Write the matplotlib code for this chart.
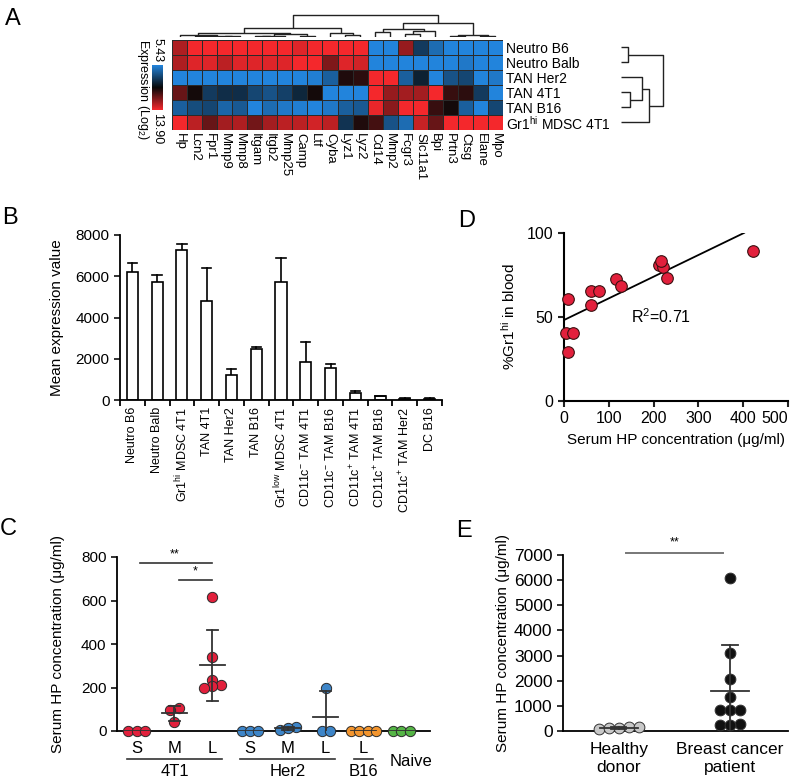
import numpy as np
import matplotlib
matplotlib.use("Agg")
import matplotlib.pyplot as plt
from matplotlib.colors import LinearSegmentedColormap
from matplotlib.transforms import blended_transform_factory

plt.rcParams['font.family'] = ['Liberation Sans', 'DejaVu Sans']
plt.rcParams['mathtext.fontset'] = 'custom'
plt.rcParams['mathtext.rm'] = 'Liberation Sans'
plt.rcParams['mathtext.default'] = 'regular'

# ---- panel A: heatmap (scaled -1 = 5.43, +1 = 13.90) ----
genes = ["Hp", "Lcn2", "Fpr1", "Mmp9", "Mmp8", "Itgam", "Itgb2", "Mmp25", "Camp", "Ltf", "Cyba",
         "Lyz1", "Lyz2", "Cd14", "Mmp2", "Fcgr3", "Slc11a1", "Bpi", "Prtn3", "Ctsg", "Elane", "Mpo"]
samples = ["Neutro B6", "Neutro Balb", "TAN Her2", "TAN 4T1", "TAN B16", "Gr1$^{hi}$ MDSC 4T1"]
heat_vals = [
    [0.7, 1, 1, 1, 1, 1, 1, 1, 0.9, 1, 1, 1, 1, -1, -1, 0.6, -0.4, -0.8, -1, -1, -1, -1],
    [0.7, 0.9, 0.9, 0.75, 0.9, 0.9, 0.9, 0.9, 1, 1, 0.5, 0.9, 0.85, -1, -1, -1, -1, -1, -1, -0.9, -1, -1],
    [-1, -1, -1, -1, -1, -1, -1, -1, -1, -0.95, -0.7, 0.1, 0.15, 1, 1, -0.7, -0.2, -1, -0.6, -0.5, -1, -0.9],
    [0.4, 0.05, -0.4, -0.3, -0.3, -0.5, -0.6, -0.45, -0.25, 0.05, -1, -1, -1, 1, 0.6, 0.65, 0.65, 1, 0.2, 0.15, -0.4, -1],
    [-0.7, -0.55, -0.5, -0.75, -0.65, -1, -0.8, -0.9, -0.95, -1, -0.9, -0.7, -0.65, 0.95, 0.55, 1, 1, 0.2, 0.05, -0.7, -1, -0.5],
    [1, 0.75, 0.4, 0.65, 0.7, 0.45, 0.65, 0.75, 0.75, 0.85, 0.75, -0.35, 0.1, 0.25, -0.6, -0.8, 0.8, 0.4, 1, 1, 1, 1],
]
expr_min, expr_max = "5.43", "13.90"

# dendrograms: (height, left, right), leaves = column/row index
col_tree = (22,
            (9, (4, (2.5, 0, (1.5, (1, 1, 2), (1, 3, 4))), (3, (1.5, (1, 5, 6), 7), (1.5, 8, 9))),
             (4, 10, (2, 11, 12))),
            (14, (8, (5, 13, 14), (6, (3, 15, 16), 17)), (2.5, (1.5, 18, 19), (1.5, 20, 21))))
row_tree = (42, (7, 0, 1), (28, (21, 2, (9, 3, 4)), 5))

# ---- panel B ----
b_labels = ["Neutro B6", "Neutro Balb", "Gr1$^{hi}$ MDSC 4T1", "TAN 4T1", "TAN Her2", "TAN B16",
            "Gr1$^{low}$ MDSC 4T1", "CD11c$^{-}$ TAM 4T1", "CD11c$^{-}$ TAM B16", "CD11c$^{+}$ TAM 4T1",
            "CD11c$^{+}$ TAM B16", "CD11c$^{+}$ TAM Her2", "DC B16"]
b_means = [6200, 5720, 7250, 4780, 1220, 2460, 5730, 1830, 1540, 320, 190, 70, 60]
b_sd = [460, 350, 300, 1610, 270, 130, 1140, 970, 210, 110, 20, 20, 20]

# ---- panel C ----
c_ticks = ["S", "M", "L", "S", "M", "L", "L", ""]
c_values = [[0, 0, 0], [106, 98, 41], [615, 340, 235, 213, 205, 200], [0, 0, 0],
            [18, 6, 15], [200, 0, 0], [0, 0, 0, 0], [0, 0, 0]]
c_colors = ["#e2203c"] * 3 + ["#3d85c8"] * 3 + ["#f3952e", "#55b546"]
c_groups = [("4T1", 0, 2), ("Her2", 3, 5), ("B16", 6, 6)]

# ---- panel D ----
d_x = [9.7, 3.7, 20.9, 9.7, 59.6, 79, 59.6, 116, 127, 211, 220.5, 216, 231, 421]
d_y = [60.6, 40.2, 40.2, 29.3, 65.7, 65.7, 57.2, 72.7, 68.5, 81.1, 79.7, 83.6, 73.5, 89]
fit_intercept, fit_slope, fit_xmax = 48.2, 0.129, 402

# ---- panel E ----
e_labels = ["Healthy\ndonor", "Breast cancer\npatient"]
e_values = [[90, 130, 110, 150, 170], [6070, 3100, 2080, 1350, 820, 820, 830, 250, 260, 255]]
e_colors = ["#c8c8c8", "#111111"]

W, H = 800, 781


def px(l, t, r, b):
    return [l / W, 1 - b / H, (r - l) / W, (b - t) / H]


def draw_tree(ax, node, horiz=False):
    if isinstance(node, int):
        return node + 0.5, 0
    h, a, b = node
    pa, ha = draw_tree(ax, a, horiz)
    pb, hb = draw_tree(ax, b, horiz)
    xs, ys = [pa, pa, pb, pb], [ha, h, h, hb]
    if horiz:
        xs, ys = ys, xs
    ax.plot(xs, ys, color="#222222", lw=1.0, solid_capstyle="butt")
    return (pa + pb) / 2, h


def spread(vals, step, tol):
    vals = np.asarray(vals, float)
    order = np.argsort(vals, kind="stable")
    offs = np.zeros(len(vals))
    clusters, cur = [], [order[0]]
    for i in order[1:]:
        if vals[i] - vals[cur[-1]] < tol:
            cur.append(i)
        else:
            clusters.append(cur)
            cur = [i]
    clusters.append(cur)
    for cl in clusters:
        for k, idx in enumerate(cl):
            offs[idx] = (k - (len(cl) - 1) / 2) * step
    return offs


def style(ax, lw=1.3):
    for s in ["top", "right"]:
        ax.spines[s].set_visible(False)
    for s in ["left", "bottom"]:
        ax.spines[s].set_linewidth(lw)
    ax.tick_params(width=lw, length=4, color="#222222")


fig = plt.figure(figsize=(8, 7.81), dpi=100)

# ---------- A ----------
cmap = LinearSegmentedColormap.from_list("bkr", ["#2284dc", "#080808", "#f4282c"])
ax = fig.add_axes(px(172, 40, 503, 130))
ax.pcolormesh(np.array(heat_vals), cmap=cmap, vmin=-1, vmax=1, edgecolors="#2a2a2a", linewidth=0.6)
ax.set_xlim(0, len(genes))
ax.set_ylim(len(samples), 0)
ax.set_xticks(np.arange(len(genes)) + 0.5)
ax.set_xticklabels(genes, rotation=270, fontsize=9.5)
ax.set_yticks(np.arange(len(samples)) + 0.5)
ax.set_yticklabels(samples, fontsize=10)
ax.yaxis.tick_right()
ax.tick_params(length=0, pad=2)
for s in ax.spines.values():
    s.set_visible(False)

axd = fig.add_axes(px(172, 14, 503, 37))
draw_tree(axd, col_tree)
axd.set_xlim(0, len(genes))
axd.set_ylim(0, 23)
axd.axis("off")

axr = fig.add_axes(px(621, 40, 670, 130))
draw_tree(axr, row_tree, horiz=True)
axr.set_xlim(0, 49)
axr.set_ylim(len(samples), 0)
axr.axis("off")

axc = fig.add_axes(px(152, 65, 163, 110))
axc.imshow(np.linspace(-1, 1, 100)[:, None], cmap=cmap, aspect="auto", vmin=-1, vmax=1)
axc.axis("off")
fig.text(157.5 / W, 1 - 62 / H, expr_min, rotation=270, ha="center", va="bottom", fontsize=9)
fig.text(157.5 / W, 1 - 113 / H, expr_max, rotation=270, ha="center", va="top", fontsize=9)
fig.text(143 / W, 1 - 90 / H, "Expression (Log$_2$)", rotation=270, ha="center", va="center", fontsize=9)

# ---------- B ----------
ax = fig.add_axes(px(120, 235, 442, 400))
xb = np.arange(len(b_labels))
ax.bar(xb, b_means, width=0.45, color="white", edgecolor="black", linewidth=1.2, zorder=2)
for x, m, s in zip(xb, b_means, b_sd):
    ax.plot([x, x], [m, m + s], color="black", lw=1.2, zorder=1)
    ax.plot([x - 0.19, x + 0.19], [m + s, m + s], color="black", lw=1.2)
ax.set_xlim(-0.5, len(b_labels) - 0.5)
ax.set_ylim(0, 8000)
ax.set_yticks(np.arange(0, 8001, 2000))
ax.set_xticks(xb)
ax.set_xticklabels(b_labels, rotation=90, fontsize=9)
ax.set_xticks(np.arange(-0.5, len(b_labels)), minor=True)
style(ax)
ax.tick_params(axis="x", which="major", length=0, pad=5)
ax.tick_params(axis="x", which="minor", length=4, width=1.3)
ax.tick_params(axis="y", labelsize=11)
ax.set_ylabel("Mean expression value", fontsize=11)
ax.yaxis.set_label_coords(-0.175, 0.5)

# ---------- D ----------
ax = fig.add_axes(px(564, 233, 788, 401))
ax.scatter(d_x, d_y, s=70, color="#e2203c", edgecolor="#3a1010", linewidth=0.8, zorder=3, clip_on=False)
xf = np.array([0, fit_xmax])
ax.plot(xf, fit_intercept + fit_slope * xf, color="black", lw=1.3, zorder=2)
ax.text(217, 50, "R$^2$=0.71", ha="center", va="center", fontsize=11.5)
ax.set_xlim(0, 500)
ax.set_ylim(0, 100)
ax.set_xticks(np.arange(0, 501, 100))
ax.set_yticks([0, 50, 100])
style(ax, 1.5)
ax.tick_params(labelsize=11.5)
ax.set_ylabel("%Gr1$^{hi}$ in blood", fontsize=11)
ax.yaxis.set_label_coords(-0.205, 0.5)
ax.set_xlabel("Serum HP concentration (\u03bcg/ml)", fontsize=11)
ax.xaxis.set_label_coords(0.5, -0.19)
ax.get_xticklabels()[-1].set_horizontalalignment("right")
ax.get_xticklabels()[-1].set_x(1.0)

# ---------- C ----------
ax = fig.add_axes(px(117, 557, 430, 731))
for i, (vals, col) in enumerate(zip(c_values, c_colors)):
    off = spread(vals, 0.22, 12)
    ax.scatter(i + off, vals, s=55, color=col, edgecolor="#2a2a2a", linewidth=0.7, zorder=3, clip_on=False)
    m, s = np.mean(vals), np.std(vals, ddof=1)
    ax.plot([i - 0.33, i + 0.33], [m, m], color="#333333", lw=1.3, zorder=4)
    ax.plot([i, i], [max(m - s, 0), m + s], color="#333333", lw=1.3, zorder=4)
    for y in (m - s, m + s):
        if y > 0:
            ax.plot([i - 0.15, i + 0.15], [y, y], color="#333333", lw=1.3, zorder=4)
ax.set_xlim(-0.52, 7.76)
ax.set_ylim(0, 800)
ax.set_yticks(np.arange(0, 801, 200))
ax.set_xticks(range(len(c_ticks)))
ax.set_xticklabels(c_ticks, fontsize=12)
style(ax)
ax.tick_params(axis="x", length=0, pad=7)
ax.tick_params(axis="y", labelsize=11)
tr = blended_transform_factory(ax.transData, ax.transAxes)
for name, a, b in c_groups:
    ax.plot([a - 0.26, b + 0.26], [-0.163, -0.163], color="#333333", lw=1.2, transform=tr, clip_on=False)
    ax.text((a + b) / 2, -0.19, name, transform=tr, ha="center", va="top", fontsize=12)
ax.text(7.27, -0.13, "Naive", transform=tr, ha="center", va="top", fontsize=12)
# significance
ax.plot([0.1, 2.0], [774, 774], color="#333333", lw=1.2, clip_on=False)
ax.text(1.0, 782, "**", ha="center", va="bottom", fontsize=9)
ax.plot([1.13, 2.0], [696, 696], color="#333333", lw=1.2, clip_on=False)
ax.text(1.55, 704, "*", ha="center", va="bottom", fontsize=9)
ax.set_ylabel("Serum HP concentration (\u03bcg/ml)", fontsize=11)
ax.yaxis.set_label_coords(-0.166, 0.5)

# ---------- E ----------
ax = fig.add_axes(px(563, 555, 788, 731))
for i, (vals, col) in enumerate(zip(e_values, e_colors)):
    off = spread(vals, 0.09, 300)
    ax.scatter(i + off, vals, s=60, color=col, edgecolor="#333333", linewidth=0.7, zorder=3, clip_on=False)
    m, s = np.mean(vals), np.std(vals, ddof=1)
    ax.plot([i - 0.17, i + 0.17], [m, m], color="#333333", lw=1.3, zorder=4)
    ax.plot([i, i], [max(m - s, 0), m + s], color="#333333", lw=1.3, zorder=4)
    for y in (m - s, m + s):
        if y > 0:
            ax.plot([i - 0.07, i + 0.07], [y, y], color="#333333", lw=1.3, zorder=4)
ax.set_xlim(-0.5, 1.52)
ax.set_ylim(0, 7000)
ax.set_yticks(np.arange(0, 7001, 1000))
ax.set_xticks([0, 1])
ax.set_xticklabels(e_labels, fontsize=12.5)
style(ax)
ax.tick_params(axis="x", length=0, pad=8)
ax.tick_params(axis="y", labelsize=12.5)
ax.plot([0.07, 0.94], [7090, 7090], color="#777777", lw=1.4, clip_on=False)
ax.text(0.5, 7250, "**", ha="center", va="bottom", fontsize=9)
ax.set_ylabel("Serum HP concentration (\u03bcg/ml)", fontsize=11)
ax.yaxis.set_label_coords(-0.236, 0.5)

# panel letters
for letter, x, y in [("A", 5, 8), ("B", 2, 207), ("C", 0, 518), ("D", 458, 210), ("E", 456, 520)]:
    fig.text(x / W, 1 - y / H, letter, fontsize=17, ha="left", va="top")

fig.savefig("out.png", dpi=100)
